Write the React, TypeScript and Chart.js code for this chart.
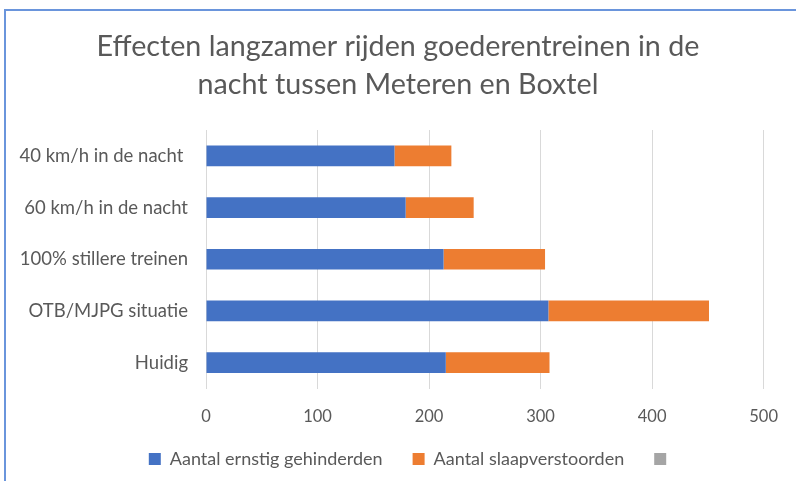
import React, { useEffect, useRef } from "react";
import { Chart, registerables } from "chart.js";

Chart.register(...registerables);

const titleLines = [
  "Effecten langzamer rijden goederentreinen in de",
  "nacht tussen Meteren en Boxtel",
];
const categories = [
  "40 km/h in de nacht ",
  "60 km/h in de nacht",
  "100% stillere treinen",
  "OTB/MJPG situatie",
  "Huidig",
];
const ernstigGehinderden = [169, 179, 213, 307, 215];
const slaapverstoorden = [51, 61, 91, 144, 93];
const derdeReeks = [null, null, null, null, null];
const seriesLabels = ["Aantal ernstig gehinderden", "Aantal slaapverstoorden", ""];
const xMin = 0;
const xMax = 500;
const xStep = 100;

const FONT = "Lato, 'Open Sans', sans-serif";
const TEXT = "#595959";

const legendShift = {
  id: "legendShift",
  afterLayout(chart: any) {
    if (chart.legend) {
      chart.legend.left += 14;
      chart.legend.right += 14;
    }
  },
};

export default function App() {
  const ref = useRef<HTMLCanvasElement | null>(null);

  useEffect(() => {
    if (!ref.current) return;
    const chart = new Chart(ref.current, {
      type: "bar",
      data: {
        labels: categories,
        datasets: [
          {
            label: seriesLabels[0],
            data: ernstigGehinderden,
            backgroundColor: "#4472C4",
            borderWidth: 0,
            barPercentage: 0.4,
            categoryPercentage: 1,
          },
          {
            label: seriesLabels[1],
            data: slaapverstoorden,
            backgroundColor: "#ED7D31",
            borderWidth: 0,
            barPercentage: 0.4,
            categoryPercentage: 1,
          },
          {
            label: seriesLabels[2],
            data: derdeReeks as any,
            backgroundColor: "#A5A5A5",
            borderWidth: 0,
            barPercentage: 0.4,
            categoryPercentage: 1,
          },
        ],
      },
      options: {
        indexAxis: "y",
        animation: false,
        responsive: false,
        maintainAspectRatio: false,
        layout: { padding: { left: 32, right: 32, top: 0, bottom: 3 } },
        plugins: {
          title: {
            display: true,
            text: titleLines,
            color: TEXT,
            font: { family: FONT, size: 28.7, weight: "normal", lineHeight: 1.324 },
            padding: { top: 28, bottom: 26 },
          },
          legend: {
            display: true,
            position: "bottom",
            labels: {
              color: TEXT,
              font: { family: FONT, size: 18 },
              boxWidth: 12,
              boxHeight: 12,
              padding: 30,
            },
          },
          tooltip: { enabled: false },
        },
        scales: {
          x: {
            stacked: true,
            min: xMin,
            max: xMax,
            afterFit: (scale: any) => {
              scale.height = 31.5;
              scale._computeLabelArea = () => undefined;
            },
            ticks: {
              stepSize: xStep,
              color: TEXT,
              font: { family: FONT, size: 16.5 },
              padding: 18,
            },
            grid: { color: "#D9D9D9", lineWidth: 1, drawTicks: false },
            border: { display: false },
          },
          y: {
            stacked: true,
            afterFit: (scale: any) => {
              scale.width = 174;
              scale._computeLabelArea = () => undefined;
            },
            ticks: {
              color: TEXT,
              font: { family: FONT, size: 18.5 },
              padding: 18,
            },
            grid: { display: false, drawTicks: false },
            border: { display: false },
          },
        },
      },
      plugins: [legendShift],
    });
    return () => chart.destroy();
  }, []);

  return (
    <div
      style={{
        position: "fixed",
        left: 0,
        top: 0,
        width: 796,
        height: 481,
        background: "#ffffff",
      }}
    >
      <canvas ref={ref} width={796} height={481} style={{ position: "absolute", left: 0, top: 0 }} />
      <div
        style={{
          position: "absolute",
          left: 4,
          top: 9,
          width: 792,
          height: 472,
          borderLeft: "2px solid #6A95DC",
          borderTop: "2px solid #6A95DC",
          boxSizing: "border-box",
          pointerEvents: "none",
        }}
      />
    </div>
  );
}
